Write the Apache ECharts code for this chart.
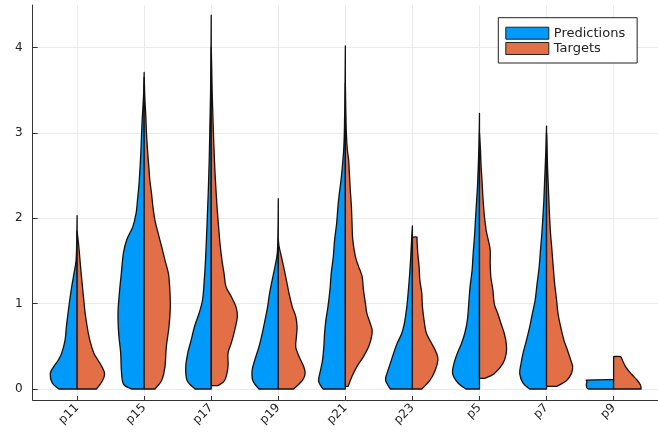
<!DOCTYPE html>
<html><head><meta charset="utf-8">
<script src="https://cdn.jsdelivr.net/npm/echarts@6/dist/echarts.min.js"></script>
<style>html,body{margin:0;padding:0;background:#fff}#c{width:658px;height:436px}</style>
</head><body><div id="c"></div>
<script>
// Categories and tick labels
const categories = ['p11','p15','p17','p19','p21','p23','p5','p7','p9'];
const yTicks = [0, 1, 2, 3, 4];
const xTicks = [0, 1, 2, 3, 4, 5, 6, 7, 8];

// Violin half profiles: [value, half-width in category units]
const pred_p11 = [[0,0.27],[0.07,0.37],[0.18,0.40],[0.26,0.35],[0.34,0.28],[0.42,0.23],[0.57,0.18],[0.73,0.16],[0.89,0.135],[1.04,0.11],[1.2,0.08],[1.36,0.045],[1.5,0.016],[1.7,0.006],[2.03,0]];
const targ_p11 = [[0,0.29],[0.1,0.38],[0.18,0.41],[0.26,0.37],[0.34,0.31],[0.42,0.25],[0.57,0.19],[0.73,0.15],[0.89,0.12],[1.04,0.1],[1.2,0.08],[1.36,0.06],[1.51,0.043],[1.65,0.028],[1.75,0.015],[1.85,0]];
const pred_p15 = [[0,0.19],[0.06,0.31],[0.22,0.34],[0.42,0.35],[0.65,0.38],[0.89,0.39],[1.12,0.37],[1.36,0.34],[1.59,0.31],[1.75,0.26],[1.9,0.17],[2.06,0.12],[2.21,0.10],[2.37,0.08],[2.56,0.064],[2.76,0.05],[2.96,0.04],[3.15,0.03],[3.35,0.015],[3.46,0.008],[3.71,0]];
const targ_p15 = [[0,0.16],[0.1,0.26],[0.26,0.31],[0.49,0.33],[0.73,0.37],[0.96,0.39],[1.2,0.38],[1.36,0.36],[1.51,0.31],[1.67,0.26],[1.82,0.21],[1.98,0.16],[2.14,0.13],[2.29,0.11],[2.45,0.084],[2.6,0.07],[2.8,0.05],[2.99,0.035],[3.19,0.025],[3.38,0.012],[3.54,0.005],[3.65,0]];
const pred_p17 = [[0,0.24],[0.1,0.36],[0.26,0.38],[0.42,0.35],[0.57,0.30],[0.73,0.25],[0.89,0.18],[1.04,0.13],[1.2,0.11],[1.51,0.085],[1.9,0.064],[2.29,0.045],[2.68,0.03],[3.07,0.02],[3.46,0.01],[3.9,0.004],[4.38,0]];
const targ_p17 = [[0.04,0.10],[0.1,0.2],[0.26,0.25],[0.42,0.25],[0.54,0.30],[0.69,0.35],[0.85,0.39],[0.96,0.37],[1.08,0.30],[1.2,0.22],[1.36,0.19],[1.51,0.16],[1.71,0.13],[1.9,0.11],[2.1,0.09],[2.29,0.074],[2.56,0.055],[2.84,0.04],[3.07,0.03],[3.46,0.015],[3.85,0.005],[4.0,0]];
const pred_p19 = [[0,0.29],[0.1,0.38],[0.22,0.39],[0.34,0.35],[0.49,0.29],[0.65,0.24],[0.8,0.20],[0.96,0.16],[1.12,0.13],[1.28,0.09],[1.43,0.05],[1.59,0.015],[1.8,0.005],[2.23,0]];
const targ_p19 = [[0,0.23],[0.1,0.36],[0.18,0.40],[0.26,0.38],[0.38,0.31],[0.49,0.26],[0.61,0.27],[0.73,0.28],[0.85,0.26],[0.96,0.21],[1.12,0.16],[1.28,0.12],[1.43,0.08],[1.59,0.035],[1.67,0.012],[1.75,0]];
const pred_p21 = [[0,0.33],[0.03,0.36],[0.1,0.40],[0.22,0.37],[0.34,0.34],[0.5,0.32],[0.65,0.31],[0.81,0.29],[0.96,0.26],[1.16,0.23],[1.36,0.21],[1.55,0.18],[1.75,0.16],[1.94,0.13],[2.14,0.11],[2.29,0.09],[2.45,0.064],[2.6,0.045],[2.8,0.025],[3.0,0.015],[3.31,0.008],[3.7,0.003],[4.02,0]];
const targ_p21 = [[0.03,0.04],[0.15,0.1],[0.26,0.17],[0.38,0.27],[0.5,0.35],[0.61,0.39],[0.69,0.40],[0.77,0.37],[0.89,0.32],[1.0,0.30],[1.16,0.27],[1.32,0.25],[1.43,0.2],[1.55,0.15],[1.75,0.11],[1.94,0.10],[2.14,0.09],[2.33,0.074],[2.53,0.06],[2.68,0.05],[2.8,0.03],[3.0,0.015],[3.3,0.006],[3.58,0]];
const pred_p23 = [[0,0.33],[0.1,0.40],[0.18,0.38],[0.3,0.33],[0.42,0.28],[0.53,0.23],[0.65,0.16],[0.77,0.12],[0.96,0.084],[1.16,0.06],[1.36,0.04],[1.55,0.025],[1.75,0.012],[1.91,0]];
const targ_p23 = [[0,0.14],[0.1,0.26],[0.22,0.34],[0.34,0.38],[0.42,0.36],[0.53,0.29],[0.65,0.21],[0.77,0.18],[0.96,0.15],[1.12,0.14],[1.28,0.11],[1.43,0.10],[1.59,0.08],[1.75,0.068],[1.78,0.065],[1.78,0]];
const pred_p5 = [[0,0.2],[0.07,0.32],[0.18,0.40],[0.3,0.38],[0.42,0.33],[0.53,0.27],[0.65,0.22],[0.81,0.18],[1.0,0.16],[1.2,0.14],[1.39,0.11],[1.59,0.094],[1.79,0.074],[1.98,0.06],[2.18,0.045],[2.37,0.03],[2.57,0.02],[2.8,0.01],[3.0,0.004],[3.23,0]];
const targ_p5 = [[0.125,0.075],[0.18,0.22],[0.3,0.35],[0.42,0.40],[0.53,0.40],[0.65,0.37],[0.77,0.32],[0.89,0.27],[1.0,0.22],[1.16,0.2],[1.31,0.17],[1.47,0.16],[1.63,0.16],[1.75,0.13],[1.86,0.1],[2.02,0.074],[2.21,0.054],[2.41,0.04],[2.6,0.025],[2.8,0.015],[3.0,0]];
const pred_p7 = [[0,0.25],[0.07,0.35],[0.18,0.40],[0.3,0.38],[0.42,0.35],[0.57,0.30],[0.73,0.25],[0.89,0.21],[1.04,0.17],[1.24,0.14],[1.43,0.11],[1.63,0.09],[1.82,0.07],[2.02,0.054],[2.21,0.04],[2.41,0.03],[2.6,0.02],[2.8,0.01],[3.08,0]];
const targ_p7 = [[0.03,0.15],[0.1,0.3],[0.18,0.37],[0.26,0.39],[0.34,0.36],[0.46,0.31],[0.57,0.26],[0.73,0.21],[0.89,0.17],[1.04,0.15],[1.24,0.12],[1.43,0.1],[1.63,0.08],[1.82,0.06],[2.02,0.045],[2.21,0.035],[2.41,0.025],[2.6,0.015],[2.92,0.005],[3.0,0]];
const pred_p9 = [[0,0.37],[0.015,0.40],[0.09,0.40],[0.105,0.37],[0.11,0]];
const targ_p9 = [[0,0.41],[0.047,0.40],[0.105,0.35],[0.18,0.26],[0.26,0.18],[0.34,0.13],[0.38,0.10],[0.38,0]];

const predictions = [pred_p11, pred_p15, pred_p17, pred_p19, pred_p21, pred_p23, pred_p5, pred_p7, pred_p9];
const targets = [targ_p11, targ_p15, targ_p17, targ_p19, targ_p21, targ_p23, targ_p5, targ_p7, targ_p9];

function halfViolin(profiles, side) {
  return function (params, api) {
    const i = api.value(0);
    const prof = profiles[i];
    const pts = prof.map(p => api.coord([i + side * p[1], p[0]]));
    const base = api.coord([i, prof[0][0]]);
    const n = pts.length;
    const f = v => v.toFixed(2);
    let d = 'M' + f(base[0]) + ',' + f(base[1]) + 'L' + f(pts[0][0]) + ',' + f(pts[0][1]);
    for (let k = 0; k < n - 1; k++) {
      const p0 = pts[Math.max(k - 1, 0)], p1 = pts[k], p2 = pts[k + 1], p3 = pts[Math.min(k + 2, n - 1)];
      const c1 = [p1[0] + (p2[0] - p0[0]) / 6, p1[1] + (p2[1] - p0[1]) / 6];
      const c2 = [p2[0] - (p3[0] - p1[0]) / 6, p2[1] - (p3[1] - p1[1]) / 6];
      d += 'C' + f(c1[0]) + ',' + f(c1[1]) + ' ' + f(c2[0]) + ',' + f(c2[1]) + ' ' + f(p2[0]) + ',' + f(p2[1]);
    }
    d += 'L' + f(base[0]) + ',' + f(base[1]) + 'Z';
    return {
      type: 'path',
      shape: { pathData: d },
      style: { fill: api.visual('color'), stroke: '#111', lineWidth: 1.3, lineJoin: 'round' }
    };
  };
}

const catData = categories.map((c, i) => [i, 0]);
const chart = echarts.init(document.getElementById('c'), null, { renderer: 'canvas' });
const textColor = '#222';
chart.setOption({
  animation: false,
  backgroundColor: '#fff',
  color: ['#009AFA', '#E26F46'],
  grid: { left: 32.7, top: 5, width: 628, height: 395 },
  legend: {
    orient: 'vertical', left: 498.3, top: 17.7,
    padding: [9, 12, 8, 7],
    itemWidth: 43, itemHeight: 12, itemGap: 2.3,
    borderColor: '#222', borderWidth: 1, backgroundColor: '#fff',
    icon: 'rect',
    itemStyle: { borderColor: '#222', borderWidth: 1 },
    textStyle: { fontFamily: 'DejaVu Sans', fontSize: 13, color: textColor },
    data: ['Predictions', 'Targets']
  },
  xAxis: {
    type: 'value', min: -0.662, max: 8.662,
    axisLine: { show: true, onZero: false, lineStyle: { color: '#333', width: 1 } },
    axisTick: { show: true, inside: true, length: 4, customValues: xTicks, lineStyle: { color: '#333' } },
    axisLabel: {
      customValues: xTicks, rotate: 45, margin: 6,
      formatter: v => categories[Math.round(v)],
      fontFamily: 'DejaVu Sans', fontSize: 12, color: textColor
    },
    splitLine: { show: true, lineStyle: { color: '#ebebeb', width: 1 } }
  },
  yAxis: {
    type: 'value', min: -0.129, max: 4.5,
    axisLine: { show: true, onZero: false, lineStyle: { color: '#333', width: 1 } },
    axisTick: { show: true, inside: true, length: 5, customValues: yTicks, lineStyle: { color: '#333' } },
    axisLabel: { customValues: yTicks, margin: 10, fontFamily: 'DejaVu Sans', fontSize: 12, color: textColor },
    splitLine: { show: true, lineStyle: { color: '#ebebeb', width: 1 } }
  },
  series: [
    { name: 'Predictions', type: 'custom', renderItem: halfViolin(predictions, -1), data: catData, encode: { x: 0, y: 1 }, clip: false },
    { name: 'Targets', type: 'custom', renderItem: halfViolin(targets, 1), data: catData, encode: { x: 0, y: 1 }, clip: false }
  ]
});
</script></body></html>
